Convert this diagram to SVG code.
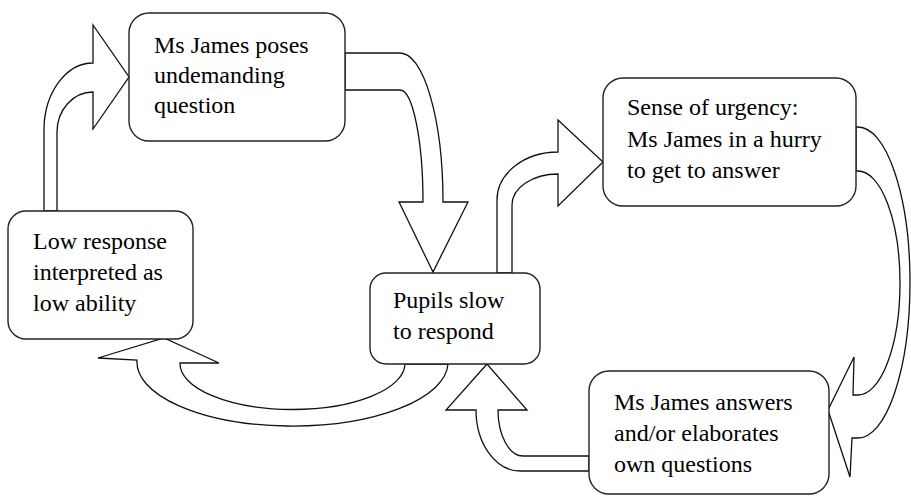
<svg xmlns="http://www.w3.org/2000/svg" width="911" height="497" viewBox="0 0 911 497">
<rect width="911" height="497" fill="#fff"/>
<g id="connectors" fill="#fff" stroke="#111" stroke-width="1.3">
<path d="M44,211 L44,130 A49,67 0 0 1 93,63 L93,25 L129,77 L93,129 L93,92 A36,40 0 0 0 57,132 L57,211 Z"/>
<path d="M345,53 L400,53 A43,149 0 0 1 443,202 L468,202 L433,272 L399,202 L423,202 A23,112 0 0 0 400,90 L345,90 Z"/>
<path d="M497,273 L497,200 A61,48 0 0 1 558,152 L558,120 L603,162 L558,206 L558,174 A46,31 0 0 0 512,205 L512,273 Z"/>
<path d="M856,127 L858,127 A52,155.5 0 0 1 858,438 L852,438 L850,477 L828,410 L854,357 L853,395 L858,395 A42,112 0 0 0 858,171 L856,171 Z"/>
<path d="M589,456 L523,456 A25,46 0 0 1 498,410 L527,410 L487,364 L446,410 L476,410 A44,61 0 0 0 520,471 L589,471 Z"/>
<path d="M405,364 A112.5,46 0 0 1 180,363 L219,363 L164,338 L98,358 L137,360 A155.5,64 0 0 0 448,364 Z"/>
</g>
<g id="n1">
<rect x="129" y="13" width="216" height="128" rx="20" fill="#fff" stroke="#222" stroke-width="1.4"/>
<text x="154" y="53" style="font-family:'Liberation Serif'" font-size="24">Ms James poses</text>
<text x="154" y="83" style="font-family:'Liberation Serif'" font-size="24">undemanding</text>
<text x="154" y="113" style="font-family:'Liberation Serif'" font-size="24">question</text>
</g>
<g id="n2">
<rect x="8" y="211" width="185" height="128" rx="18" fill="#fff" stroke="#222" stroke-width="1.4"/>
<text x="33" y="249" style="font-family:'Liberation Serif'" font-size="24">Low response</text>
<text x="33" y="280" style="font-family:'Liberation Serif'" font-size="24">interpreted as</text>
<text x="33" y="311" style="font-family:'Liberation Serif'" font-size="24">low ability</text>
</g>
<g id="n3">
<rect x="370" y="273" width="170" height="91" rx="16" fill="#fff" stroke="#222" stroke-width="1.4"/>
<text x="393" y="308" style="font-family:'Liberation Serif'" font-size="24">Pupils slow</text>
<text x="393" y="339" style="font-family:'Liberation Serif'" font-size="24">to respond</text>
</g>
<g id="n4">
<rect x="603" y="78" width="253" height="128" rx="20" fill="#fff" stroke="#222" stroke-width="1.4"/>
<text x="627" y="115" style="font-family:'Liberation Serif'" font-size="24">Sense of urgency:</text>
<text x="627" y="147" style="font-family:'Liberation Serif'" font-size="24">Ms James in a hurry</text>
<text x="627" y="178" style="font-family:'Liberation Serif'" font-size="24">to get to answer</text>
</g>
<g id="n5">
<rect x="589" y="371" width="240" height="123" rx="20" fill="#fff" stroke="#222" stroke-width="1.4"/>
<text x="614" y="410" style="font-family:'Liberation Serif'" font-size="24">Ms James answers</text>
<text x="614" y="441" style="font-family:'Liberation Serif'" font-size="24">and/or elaborates</text>
<text x="614" y="472" style="font-family:'Liberation Serif'" font-size="24">own questions</text>
</g>
</svg>
